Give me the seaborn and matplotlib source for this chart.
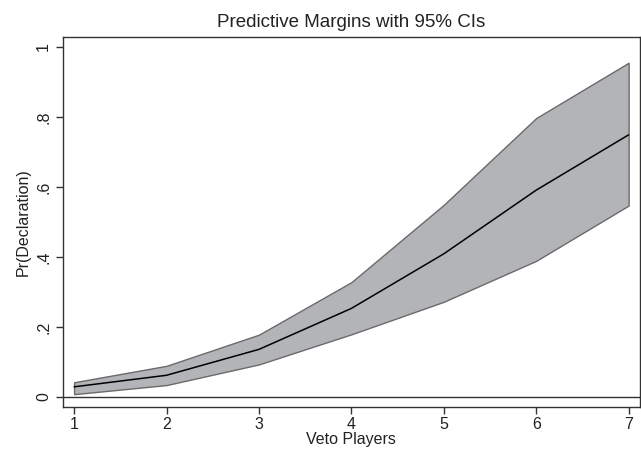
import numpy as np
import pandas as pd
import matplotlib
matplotlib.use("Agg")
import matplotlib.pyplot as plt
import seaborn as sns

# predictive margins
veto_players = [1, 2, 3, 4, 5, 6, 7]
margin = [0.029, 0.062, 0.136, 0.253, 0.409, 0.591, 0.749]
ci_low = [0.008, 0.034, 0.093, 0.179, 0.272, 0.389, 0.547]
ci_high = [0.042, 0.089, 0.178, 0.328, 0.549, 0.797, 0.955]

df = pd.DataFrame({"veto": veto_players, "margin": margin,
                   "lo": ci_low, "hi": ci_high})

sns.set_style("ticks")
plt.rcParams["font.family"] = ["Liberation Sans", "DejaVu Sans"]

fig = plt.figure(figsize=(6.41, 4.51), dpi=100)
ax = fig.add_axes([0.0983, 0.0976, 0.8997, 0.8204])

ax.fill_between(df["veto"], df["lo"], df["hi"], facecolor="#b3b4b7",
                edgecolor="#6a6a6a", linewidth=1.0, zorder=2)
sns.lineplot(data=df, x="veto", y="margin", color="black", linewidth=1.1,
             ax=ax, zorder=3)
ax.axhline(0, color="#333333", linewidth=1.0, zorder=1)

ax.set_xlim(0.88, 7.12)
ax.set_ylim(-0.0286, 1.0286)
ax.set_xticks(veto_players)
ax.set_xticklabels([str(v) for v in veto_players])
ax.set_yticks([0, 0.2, 0.4, 0.6, 0.8, 1.0])
ax.set_yticklabels(["0", ".2", ".4", ".6", ".8", "1"], rotation=90, va="center")

ax.tick_params(axis="both", direction="out", length=5, width=1,
               color="#333333", labelsize=11.5, labelcolor="#222222")
ax.tick_params(axis="x", pad=2)
for s in ax.spines.values():
    s.set_color("#333333")
    s.set_linewidth(1.0)

ax.set_xlabel("Veto Players", fontsize=11.5, color="#222222", labelpad=0)
ax.set_ylabel("Pr(Declaration)", fontsize=11.5, color="#222222", labelpad=4)
ax.set_title("Predictive Margins with 95% CIs", fontsize=13.5,
             color="#222222", pad=7)

fig.savefig("out.png", dpi=100)
